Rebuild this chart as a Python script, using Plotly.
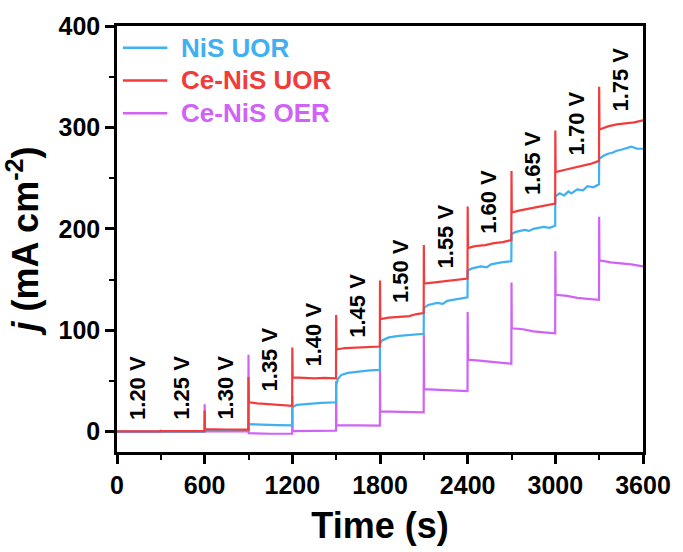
import plotly.graph_objects as go

# Multi-step chronoamperometry, 300 s per potential step
potentials = ["1.20 V", "1.25 V", "1.30 V", "1.35 V", "1.40 V", "1.45 V",
              "1.50 V", "1.55 V", "1.60 V", "1.65 V", "1.70 V", "1.75 V"]
label_t = [145, 445, 745, 1045, 1345, 1645, 1945, 2245, 2545, 2845, 3145, 3445]
label_j = [9.8, 9.8, 9.8, 37.4, 61.8, 91, 125, 159, 193, 231, 270, 314]

# NiS UOR
nis_t = [0, 300, 600, 602, 899, 900, 1000, 1100, 1199,
         1200, 1230, 1300, 1400, 1499,
         1500, 1512, 1535, 1580, 1650, 1730, 1799,
         1800, 1815, 1860, 1930, 2020, 2099,
         2100, 2130, 2190, 2230, 2260, 2330, 2399,
         2400, 2430, 2490, 2530, 2560, 2630, 2699,
         2700, 2730, 2790, 2820, 2850, 2920, 2960, 2999,
         3000, 3030, 3060, 3090, 3110, 3150, 3190, 3220, 3260, 3299,
         3300, 3330, 3360, 3390, 3420, 3450, 3490, 3520, 3560, 3600]
nis_j = [0, 0, 0, 0.8, 0.8, 7.5, 6.8, 6.5, 6.3,
         24, 26.5, 27.5, 28.5, 29,
         46, 52, 56, 58, 59.5, 60.5, 61,
         87, 90, 93, 94.5, 95.5, 96.5,
         122, 125, 127, 126, 129, 131, 132.5,
         159, 161, 163, 162, 165, 167, 168,
         195, 197, 199, 198, 200, 202, 201, 203,
         232, 235, 233, 237, 235, 239, 238, 242, 241, 244,
         269, 272, 274, 275, 277, 278, 280, 281, 279, 279]

# Ce-NiS UOR
cenis_t = [0, 150, 299,
           300, 302, 450, 599,
           600, 602, 750, 899,
           900, 902, 960, 1050, 1130, 1199,
           1200, 1202, 1280, 1350, 1420, 1499,
           1500, 1502, 1560, 1640, 1720, 1799,
           1800, 1802, 1860, 1930, 2000, 2050, 2099,
           2100, 2102, 2160, 2230, 2300, 2360, 2399,
           2400, 2402, 2450, 2520, 2580, 2640, 2699,
           2700, 2702, 2750, 2820, 2880, 2940, 2999,
           3000, 3002, 3060, 3120, 3180, 3240, 3299,
           3300, 3302, 3360, 3420, 3480, 3540, 3600]
cenis_j = [0.3, 0.3, 0.3,
           1.8, 0.6, 0.5, 0.5,
           21, 2.6, 2.2, 2.0,
           54, 29, 28, 27, 26, 25.5,
           83, 53.5, 53, 52.5, 53, 52.5,
           115, 81, 82.5, 83, 83, 84,
           149, 111, 112.5, 113, 114, 116, 117,
           184, 146, 147, 148, 149, 150, 151,
           222, 181, 183, 184, 186, 187, 189,
           257, 216, 218, 220, 222, 223, 225,
           297, 256, 258, 260, 262, 264, 267,
           340, 298, 301, 303, 304, 305, 307]

# Ce-NiS OER
oer_t = [0, 300, 599, 600, 602, 899,
         900, 902, 1050, 1199,
         1200, 1202, 1350, 1499,
         1500, 1502, 1650, 1799,
         1800, 1802, 1950, 2099,
         2100, 2102, 2250, 2399,
         2400, 2402, 2480, 2550, 2620, 2699,
         2700, 2702, 2780, 2850, 2920, 2999,
         3000, 3002, 3080, 3150, 3220, 3299,
         3300, 3302, 3380, 3450, 3520, 3600]
oer_j = [0, 0, 0, 27, 0.3, 0.2,
         76, -1.5, -2, -2,
         35, 0.5, 0.8, 1,
         50, 6.5, 6.2, 6,
         62, 20, 19.5, 19,
         96, 42, 41, 40,
         118, 71, 70, 69, 68, 67,
         147, 102, 101, 99, 98, 97,
         178, 135, 134, 132, 131, 130,
         212, 169, 167, 166, 165, 163]

series_names = ["NiS UOR", "Ce-NiS UOR", "Ce-NiS OER"]

BLUE = "#3FB0F2"
RED = "#F23B3B"
PURPLE = "#D062F5"
FONT = "Liberation Sans, Arial, sans-serif"

fig = go.Figure()
# OER drawn first so the UOR traces sit on top of it
fig.add_trace(go.Scatter(x=oer_t, y=oer_j, mode="lines", name=series_names[2],
                         line=dict(color=PURPLE, width=2.2)))
fig.add_trace(go.Scatter(x=nis_t, y=nis_j, mode="lines", name=series_names[0],
                         line=dict(color=BLUE, width=2.2)))
fig.add_trace(go.Scatter(x=cenis_t, y=cenis_j, mode="lines", name=series_names[1],
                         line=dict(color=RED, width=2.2)))

# potential labels above each step
for txt, tx, ty in zip(potentials, label_t, label_j):
    fig.add_annotation(x=tx, y=ty, text=txt, showarrow=False, textangle=-90,
                       xanchor="center", yanchor="bottom",
                       font=dict(family=FONT, size=22, color="black", weight="bold"))

# legend: long line samples with coloured labels
W, H = 683, 552
ML, MR, MT, MB = 117, 33, 25, 97
pw, ph = W - ML - MR, H - MT - MB
for i, (nm, col) in enumerate(zip(series_names, [BLUE, RED, PURPLE])):
    ypx = 47 + 33 * i
    yp = 1 - (ypx - MT) / ph
    fig.add_shape(type="line", xref="paper", yref="paper",
                  x0=(123 - ML) / pw, x1=(168 - ML) / pw, y0=yp, y1=yp,
                  line=dict(color=col, width=2.5))
    fig.add_annotation(xref="paper", yref="paper", x=(180 - ML) / pw, y=yp,
                       text=nm, showarrow=False, xanchor="left", yanchor="middle",
                       font=dict(family=FONT, size=26, color=col, weight="bold"))

axis_common = dict(
    showline=True, linecolor="black", linewidth=2.5, mirror=True,
    ticks="outside", ticklen=9, tickwidth=2.5, tickcolor="black",
    showgrid=False, zeroline=False,
    tickfont=dict(family=FONT, size=25, color="black", weight="bold"),
)

fig.update_xaxes(range=[0, 3600], tickvals=[0, 600, 1200, 1800, 2400, 3000, 3600],
                 minor=dict(ticks="outside", ticklen=5, tickwidth=2, dtick=300,
                            tickcolor="black", showgrid=False),
                 title=dict(text="Time (s)", standoff=16,
                            font=dict(family=FONT, size=36, color="black", weight="bold")),
                 **axis_common)
fig.update_yaxes(range=[-20, 400], tickvals=[0, 100, 200, 300, 400],
                 minor=dict(ticks="outside", ticklen=5, tickwidth=2, dtick=50,
                            tickcolor="black", showgrid=False),
                 title=dict(text="<i>j</i> (mA cm<sup>-2</sup>)", standoff=10,
                            font=dict(family=FONT, size=36, color="black", weight="bold")),
                 **axis_common)

fig.update_layout(
    width=W, height=H,
    margin=dict(l=ML, r=MR, t=MT, b=MB),
    plot_bgcolor="white", paper_bgcolor="white",
    showlegend=False,
)

fig.write_html("out.html")
